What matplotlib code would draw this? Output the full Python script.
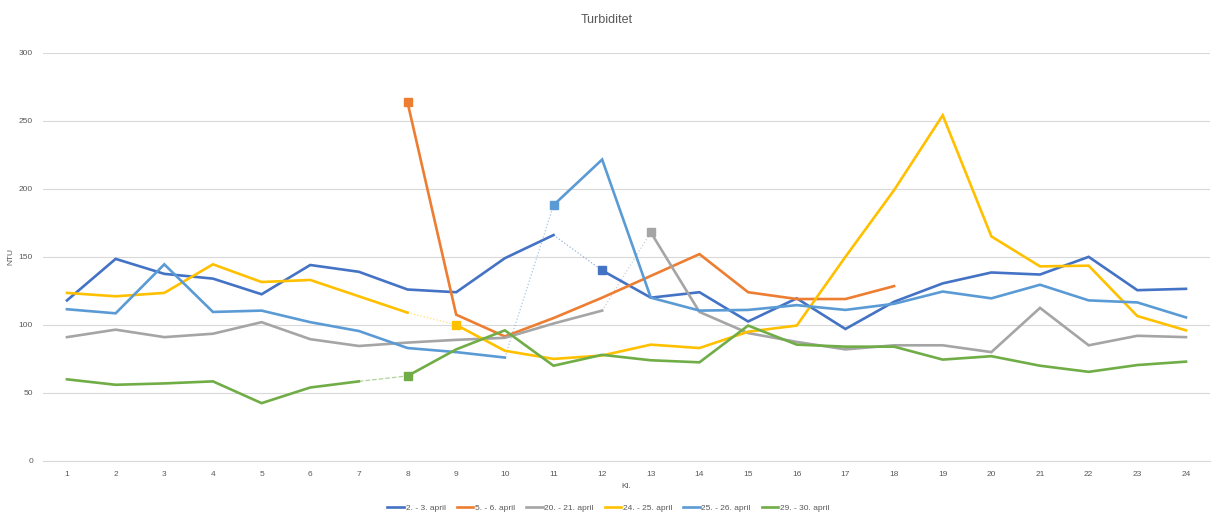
import numpy as np
import matplotlib
matplotlib.use("Agg")
import matplotlib.pyplot as plt
from matplotlib.lines import Line2D

plt.rcParams['font.family'] = ['Liberation Sans Narrow', 'Liberation Sans', 'DejaVu Sans']

nan = np.nan
hours = list(range(1, 25))

series_names = ["2. - 3. april", "5. - 6. april", "20. - 21. april",
                "24. - 25. april", "25. - 26. april", "29. - 30. april"]

apr_02_03 = [118, 148.5, 137.5, 134, 122.5, 144, 139, 126, 124, 149, 166, 140,
             120, 124, 102.5, 119.5, 97, 117, 130.5, 138.5, 137, 150, 125.5, 126.5]
apr_05_06 = [nan, nan, nan, nan, nan, nan, nan, 263.5, 107.5, 91.5, 105, 120,
             136, 152, 124, 119, 119, 128.5, nan, nan, nan, nan, nan, nan]
apr_20_21 = [91, 96.5, 91, 93.5, 102, 89.5, 84.5, 87, 89, 90.5, 101, 110.5,
             168, 109.5, 94, 87.5, 82, 85, 85, 80, 112.5, 85, 92, 91]
apr_24_25 = [123.5, 121, 123.5, 144.5, 131.5, 133, 121, 109, 100, 81, 75, 77.5,
             85.5, 83, 95, 99.5, 150, 199, 254, 165, 143, 143.5, 106.5, 96]
apr_25_26 = [111.5, 108.5, 144.5, 109.5, 110.5, 102, 95.5, 83, 80, 76, 188, 221.5,
             120, 110.5, 111, 114.5, 111, 115.5, 124.5, 119.5, 129.5, 118, 116.5, 105.5]
apr_29_30 = [60, 56, 57, 58.5, 42.5, 54, 58.5, 62.5, 82, 96, 70, 78,
             74, 72.5, 99.5, 85.5, 84, 84, 74.5, 77, 70, 65.5, 70.5, 73]

all_values = [apr_02_03, apr_05_06, apr_20_21, apr_24_25, apr_25_26, apr_29_30]
# hour at which a new measurement run starts (square marker, dotted link before it)
restart_hour = [12, 8, 13, 9, 11, 8]

colors = ["#4472C4", "#ED7D31", "#A5A5A5", "#FFC000", "#5B9BD5", "#70AD47"]
link_styles = [":", ":", ":", ":", ":", "--"]

fig = plt.figure(figsize=(12.12, 5.16), dpi=100)
ax = fig.add_axes([0.0352, 0.1066, 0.9634, 0.7913])

text_color = "#595959"
grid_color = "#D9D9D9"

for vals, rh, col, ls, name in zip(all_values, restart_hour, colors, link_styles, series_names):
    x = np.array(hours, dtype=float)
    y = np.array(vals, dtype=float)
    i = rh - 1
    # before restart
    ax.plot(x[:i], y[:i], color=col, lw=1.9, solid_joinstyle="miter", zorder=3)
    # after restart
    ax.plot(x[i:], y[i:], color=col, lw=1.9, solid_joinstyle="miter", zorder=3)
    # link across the restart
    if i > 0 and not np.isnan(y[i - 1]):
        ax.plot(x[i - 1:i + 1], y[i - 1:i + 1], color=col, lw=0.9, ls=ls,
                alpha=0.55, zorder=2)
    ax.plot([x[i]], [y[i]], marker="s", ms=6, color=col, zorder=4, ls="none")

ax.set_xlim(0.5, 24.5)
ax.set_ylim(0, 300)
ax.set_xticks(hours)
ax.set_xticklabels([str(h) for h in hours])
ax.set_yticks(range(0, 301, 50))
ax.tick_params(axis="both", length=0, labelsize=6, colors=text_color)
ax.tick_params(axis="x", pad=7)
ax.tick_params(axis="y", pad=7)
ax.grid(axis="y", color=grid_color, lw=0.8)
ax.set_axisbelow(True)
for s in ["top", "right", "left"]:
    ax.spines[s].set_visible(False)
ax.spines["bottom"].set_color(grid_color)
ax.spines["bottom"].set_linewidth(0.8)

ax.set_ylabel("NTU", fontsize=6, color=text_color)
ax.yaxis.set_label_coords(-0.0246, 0.5)
ax.set_xlabel("Kl.", fontsize=6, color=text_color, labelpad=4)
fig.text(0.501, 0.962, "Turbiditet", ha="center", va="center", fontsize=9, color=text_color)

handles = [Line2D([0], [0], color=c, lw=1.9) for c in colors]
fig.legend(handles, series_names, loc="center", bbox_to_anchor=(0.502, 0.015),
           ncol=6, frameon=False, fontsize=6, handlelength=2.0, handletextpad=0.2,
           columnspacing=1.3, labelcolor=text_color)

fig.savefig("out.png", dpi=100, facecolor="white")
